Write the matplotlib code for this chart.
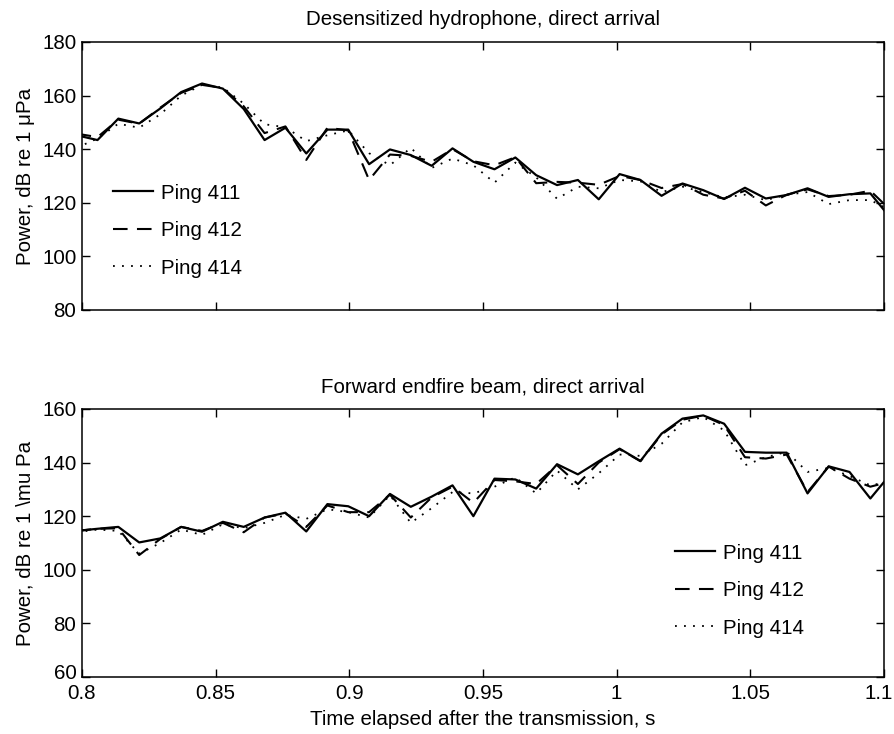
import matplotlib
matplotlib.use("Agg")
import matplotlib.pyplot as plt
from matplotlib.transforms import ScaledTranslation

plt.rcParams['font.family'] = ['Liberation Sans', 'DejaVu Sans']

# sample times (s)
t = [0.7980, 0.8058, 0.8136, 0.8214, 0.8293, 0.8371, 0.8449, 0.8527, 0.8605, 0.8683,
     0.8761, 0.8839, 0.8918, 0.8996, 0.9074, 0.9152, 0.9230, 0.9308, 0.9386, 0.9464,
     0.9543, 0.9621, 0.9699, 0.9777, 0.9855, 0.9933, 1.0011, 1.0089, 1.0168, 1.0246,
     1.0324, 1.0402, 1.0480, 1.0558, 1.0636, 1.0714, 1.0793, 1.0871, 1.0949, 1.1027]

# Top panel: desensitized hydrophone
hyd_411 = [145.2, 143.4, 151.4, 149.6, 155.2, 161.3, 164.5, 162.6, 155.0, 143.4,
           148.0, 138.4, 147.3, 147.3, 134.4, 139.9, 137.8, 133.8, 140.3, 135.3,
           132.5, 136.9, 130.3, 126.6, 128.5, 121.3, 130.7, 128.5, 122.6, 127.2,
           124.7, 121.4, 125.6, 121.6, 122.9, 125.4, 122.2, 123.2, 123.5, 114.0]
hyd_412 = [145.8, 144.5, 151.0, 149.5, 155.5, 161.0, 164.0, 162.8, 156.0, 146.0,
           148.5, 136.0, 148.0, 147.0, 128.5, 138.0, 137.5, 135.3, 140.0, 135.5,
           134.0, 137.0, 127.3, 127.8, 127.5, 126.7, 130.0, 128.5, 125.5, 127.0,
           123.0, 121.6, 124.5, 119.0, 123.0, 125.0, 122.5, 123.0, 124.5, 117.0]
hyd_414 = [140.5, 144.0, 149.5, 148.0, 153.0, 160.0, 164.0, 163.0, 157.0, 149.3,
           148.2, 143.0, 145.2, 147.0, 138.5, 134.0, 140.5, 133.0, 136.5, 134.0,
           127.5, 135.0, 129.5, 121.5, 126.0, 125.4, 128.5, 128.0, 124.0, 126.0,
           124.0, 122.0, 123.0, 121.0, 123.0, 124.0, 119.5, 121.0, 121.0, 117.0]

# Bottom panel: forward endfire beam
beam_411 = [114.5, 115.3, 116.0, 110.2, 111.7, 116.0, 114.2, 117.9, 116.0, 119.5,
            121.3, 114.3, 124.5, 123.7, 120.0, 128.3, 123.5, 127.3, 131.5, 120.0,
            134.0, 133.7, 130.3, 139.4, 135.6, 140.5, 145.2, 140.6, 150.8, 156.4,
            157.6, 154.5, 144.0, 143.7, 143.7, 128.5, 138.6, 136.5, 126.6, 136.0]
beam_412 = [114.5, 115.3, 115.5, 105.5, 111.5, 116.0, 114.5, 117.5, 114.0, 119.5,
            121.0, 116.0, 124.0, 121.5, 121.5, 128.0, 119.5, 127.0, 131.0, 125.0,
            133.5, 133.0, 132.0, 139.0, 132.0, 140.0, 145.0, 140.5, 150.5, 156.0,
            157.5, 154.0, 142.0, 141.5, 143.0, 129.0, 138.5, 134.0, 131.0, 133.0]
beam_414 = [114.0, 115.0, 114.5, 106.0, 110.0, 115.0, 113.0, 117.0, 115.5, 117.5,
            120.5, 119.0, 122.6, 121.5, 119.5, 127.8, 117.5, 123.0, 129.0, 128.5,
            131.0, 134.5, 128.5, 137.0, 130.0, 136.0, 143.0, 142.5, 147.0, 155.0,
            157.0, 152.0, 139.0, 142.0, 144.0, 136.5, 138.0, 135.0, 131.5, 133.0]

labels = ['Ping 411', 'Ping 412', 'Ping 414']
xticks = [0.8, 0.85, 0.9, 0.95, 1.0, 1.05, 1.1]
xticklabels = ['0.8', '0.85', '0.9', '0.95', '1', '1.05', '1.1']
yticks_top = [80, 100, 120, 140, 160, 180]
yticks_bot = [60, 80, 100, 120, 140, 160]

FS = 14.8
fig = plt.figure(figsize=(8.95, 7.34), dpi=100)
ax1 = fig.add_axes([0.0916, 0.5777, 0.8961, 0.3651])
ax2 = fig.add_axes([0.0916, 0.0777, 0.8961, 0.3651])

styles = [dict(linestyle='-', linewidth=1.6),
          dict(linestyle=(0, (7, 4.5)), linewidth=1.5),
          dict(linestyle=(0, (1, 4)), linewidth=1.3)]

for ax, series, yt, title, ylabel in [
        (ax1, [hyd_411, hyd_412, hyd_414], yticks_top,
         'Desensitized hydrophone, direct arrival', 'Power, dB re 1 \u03bcPa'),
        (ax2, [beam_411, beam_412, beam_414], yticks_bot,
         'Forward endfire beam, direct arrival', 'Power, dB re 1 \\mu Pa')]:
    for s, lab, st in zip(series, labels, styles):
        ax.plot(t, s, color='black', label=lab, **st)
    ax.set_xlim(0.8, 1.1)
    ax.set_ylim(yt[0], yt[-1])
    ax.set_xticks(xticks)
    ax.set_yticks(yt)
    ax.set_yticklabels([str(v) for v in yt])
    ax.tick_params(direction='in', length=6, width=1, top=True, right=True,
                   labelsize=FS, pad=4)
    for sp in ax.spines.values():
        sp.set_linewidth(1.1)
    ax.set_title(title, fontsize=FS, pad=12)
    ax.set_ylabel(ylabel, fontsize=FS)
    ax.yaxis.set_label_coords(-0.059, 0.5)

ax1.set_xticklabels([])
ax2.set_xticklabels(xticklabels)
ax2.tick_params(axis='x', pad=5)
ax2.set_xlabel('Time elapsed after the transmission, s', fontsize=FS, labelpad=5)

# keep the last tick label inside the figure edge, as in the reference
last = ax2.get_xticklabels()[-1]
last.set_transform(last.get_transform() + ScaledTranslation(-5 / 100, 0, fig.dpi_scale_trans))
# lift the lowest y label a little so it does not collide with "0.8"
low = ax2.get_yticklabels()[0]
low.set_transform(low.get_transform() + ScaledTranslation(0, 5 / 100, fig.dpi_scale_trans))

leg_kw = dict(frameon=False, fontsize=FS, handlelength=1.95, handletextpad=0.4,
              labelspacing=0.9, borderpad=0, borderaxespad=0)
ax1.legend(loc='center left', bbox_to_anchor=(0.0387, 0.296), **leg_kw)
ax2.legend(loc='center left', bbox_to_anchor=(0.739, 0.322), **leg_kw)

fig.savefig('out.png', dpi=100, facecolor='white')
